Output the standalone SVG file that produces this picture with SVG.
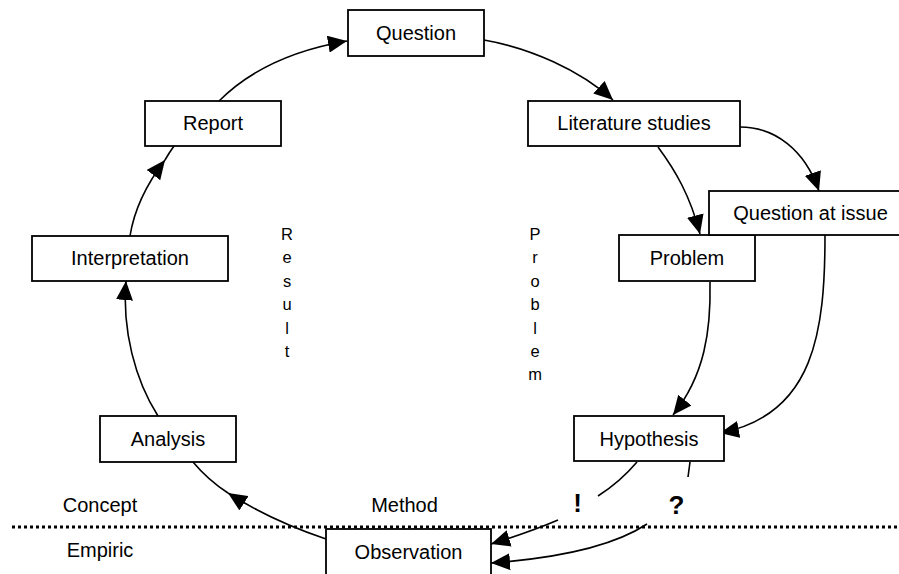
<svg xmlns="http://www.w3.org/2000/svg" width="899" height="574" viewBox="0 0 899 574">
<style>
.box{fill:#fff;stroke:#000;stroke-width:1.8}
.lbl{font-family:"Liberation Sans",Arial,sans-serif;font-size:20px;fill:#000;text-anchor:middle}
.vert{font-family:"Liberation Sans",Arial,sans-serif;font-size:16.5px;fill:#000;text-anchor:middle}
.big{font-family:"Liberation Sans",Arial,sans-serif;font-size:26px;font-weight:bold;fill:#000;text-anchor:middle}
.con{fill:none;stroke:#000;stroke-width:1.6}
.arr{marker-end:url(#ah)}
</style>
<defs>
<marker id="ah" markerUnits="userSpaceOnUse" markerWidth="19" markerHeight="17" viewBox="0 0 19 17" refX="19" refY="8.5" orient="auto">
<path d="M0,0 L19,8.5 L0,17 z" fill="#000"/>
</marker>
</defs>
<rect width="899" height="574" fill="#fff"/>
<line x1="12" y1="527" x2="899" y2="527" stroke="#000" stroke-width="3" stroke-dasharray="3,3"/>
<g id="connectors">
<path class="con arr" d="M219,101 Q265,55 347,41"/>
<path class="con arr" d="M484,40 C530,48 580,70 613,100"/>
<path class="con arr" d="M740,127 C775,127 805,150 819,191"/>
<path class="con arr" d="M658,147 C675,170 690,195 700,234"/>
<path class="con arr" d="M710,282 C711,330 705,375 673,415"/>
<path class="con arr" d="M825,235 C825,330 815,415 720,433"/>
<path class="con" d="M637,462 Q620,482 598,496"/>
<path class="con arr" d="M558,520 Q530,532 491,544"/>
<path class="con" d="M690,462 L688,477"/>
<path class="con arr" d="M647,524 Q600,555 491,563"/>
<path class="con arr" d="M326,539 Q270,520 228,493"/>
<path class="con" d="M228,493 Q208,480 193,462"/>
<path class="con arr" d="M158,416 C135,380 122,330 126,281"/>
<path class="con arr" d="M130,236 Q136,198 165,160"/>
<path class="con" d="M165,160 Q169,153 174,146"/>
</g>
<g id="question"><rect class="box" x="348" y="10" width="136" height="46"/><text class="lbl" x="416" y="40">Question</text></g>
<g id="literature"><rect class="box" x="528" y="101" width="212" height="45"/><text class="lbl" x="634" y="130">Literature studies</text></g>
<g id="problem"><rect class="box" x="619" y="235" width="136" height="46"/><text class="lbl" x="687" y="265">Problem</text></g>
<g id="question-at-issue"><rect class="box" x="709" y="191" width="203" height="44"/><text class="lbl" x="810.5" y="220">Question at issue</text></g>
<g id="hypothesis"><rect class="box" x="574" y="416" width="150" height="45"/><text class="lbl" x="649" y="446">Hypothesis</text></g>
<g id="observation"><rect class="box" x="326" y="529" width="165" height="46"/><text class="lbl" x="408.5" y="559">Observation</text></g>
<g id="report"><rect class="box" x="145" y="101" width="136" height="45"/><text class="lbl" x="213" y="130">Report</text></g>
<g id="interpretation"><rect class="box" x="32" y="236" width="196" height="45"/><text class="lbl" x="130" y="265">Interpretation</text></g>
<g id="analysis"><rect class="box" x="100" y="416" width="136" height="46"/><text class="lbl" x="168" y="446">Analysis</text></g>
<g id="labels">
<text class="vert" x="287" y="240"><tspan x="287">R</tspan><tspan x="287" dy="23.4">e</tspan><tspan x="287" dy="23.4">s</tspan><tspan x="287" dy="23.4">u</tspan><tspan x="287" dy="23.4">l</tspan><tspan x="287" dy="23.4">t</tspan></text>
<text class="vert" x="535" y="240"><tspan x="535">P</tspan><tspan x="535" dy="23.4">r</tspan><tspan x="535" dy="23.4">o</tspan><tspan x="535" dy="23.4">b</tspan><tspan x="535" dy="23.4">l</tspan><tspan x="535" dy="23.4">e</tspan><tspan x="535" dy="23.4">m</tspan></text>
<text class="lbl" x="100" y="512">Concept</text>
<text class="lbl" x="100" y="557">Empiric</text>
<text class="lbl" x="404.5" y="512">Method</text>
<text class="big" x="577.5" y="512">!</text>
<text class="big" x="676.5" y="514">?</text>
</g>
</svg>
